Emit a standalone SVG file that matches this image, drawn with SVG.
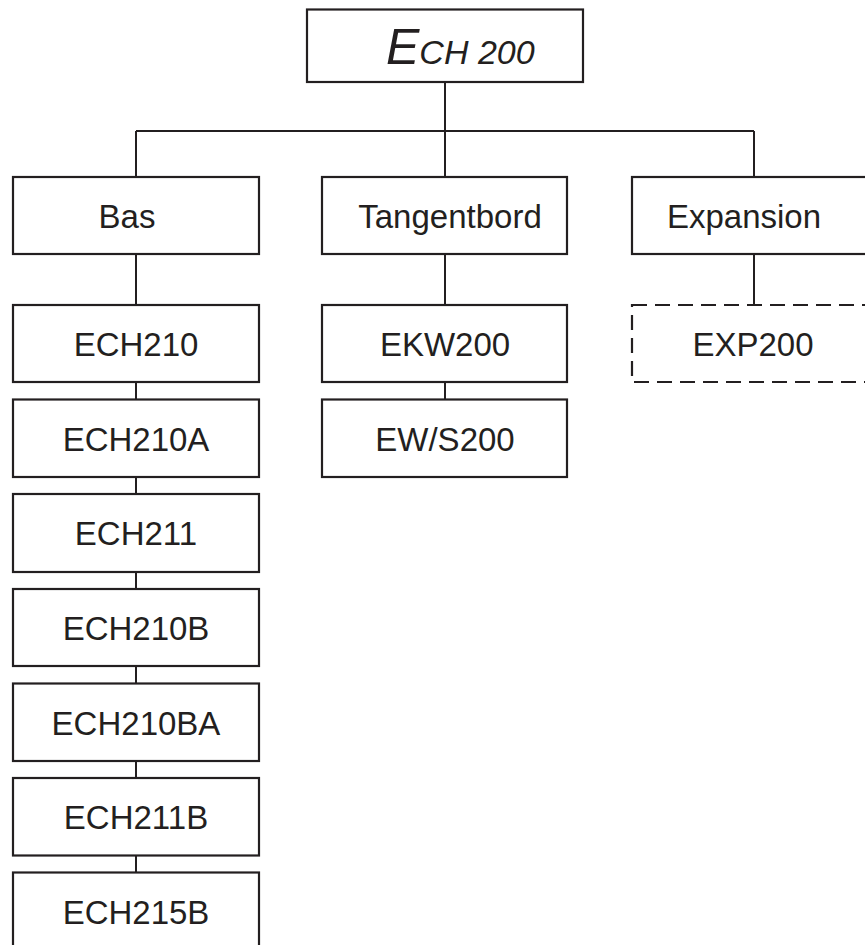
<svg xmlns="http://www.w3.org/2000/svg" width="865" height="945" viewBox="0 0 865 945">
<style>
.box{fill:#fff;stroke:#231f20;stroke-width:2.2}
.dash{fill:#fff;stroke:#231f20;stroke-width:2.2;stroke-dasharray:15 8}
.conn{fill:none;stroke:#231f20;stroke-width:2}
text{font-family:"Liberation Sans",Arial,sans-serif;font-size:33px;fill:#231f20;text-anchor:middle}
.title{font-style:italic;text-anchor:start}
</style>
<rect width="865" height="945" fill="#fff"/>
<g id="connectors">
<path class="conn" d="M445 82V131M136 131H754M136 131V177M445 131V177M754 131V177"/>
<path class="conn" d="M136 254V305M136 382V399.5M136 477V494M136 572V589M136 666V683.5M136 761V778M136 855.5V872.5"/>
<path class="conn" d="M445 254V305M445 382V399.5M754 254V305"/>
</g>
<g id="ech200"><rect class="box" x="307" y="9.5" width="276" height="72.5"/><text class="title" x="386" y="64"><tspan font-size="50">E</tspan><tspan font-size="34">CH 200</tspan></text></g>
<g id="bas"><rect class="box" x="13" y="177" width="246" height="77"/><text x="127" y="228">Bas</text></g>
<g id="tangentbord"><rect class="box" x="322" y="177" width="245" height="77"/><text x="450" y="228">Tangentbord</text></g>
<g id="expansion"><rect class="box" x="632" y="177" width="246" height="77"/><text x="744" y="228">Expansion</text></g>
<g id="ech210"><rect class="box" x="13" y="305" width="246" height="77"/><text x="136" y="356">ECH210</text></g>
<g id="ech210a"><rect class="box" x="13" y="399.5" width="246" height="77.5"/><text x="136" y="451">ECH210A</text></g>
<g id="ech211"><rect class="box" x="13" y="494" width="246" height="78"/><text x="136" y="545">ECH211</text></g>
<g id="ech210b"><rect class="box" x="13" y="589" width="246" height="77"/><text x="136" y="640">ECH210B</text></g>
<g id="ech210ba"><rect class="box" x="13" y="683.5" width="246" height="77.5"/><text x="136" y="735">ECH210BA</text></g>
<g id="ech211b"><rect class="box" x="13" y="778" width="246" height="77.5"/><text x="136" y="829">ECH211B</text></g>
<g id="ech215b"><rect class="box" x="13" y="872.5" width="246" height="78"/><text x="136" y="924">ECH215B</text></g>
<g id="ekw200"><rect class="box" x="322" y="305" width="245" height="77"/><text x="445" y="356">EKW200</text></g>
<g id="ews200"><rect class="box" x="322" y="399.5" width="245" height="77.5"/><text x="445" y="451">EW/S200</text></g>
<g id="exp200"><rect class="dash" x="632" y="305" width="246" height="77"/><text x="753" y="356">EXP200</text></g>
</svg>
